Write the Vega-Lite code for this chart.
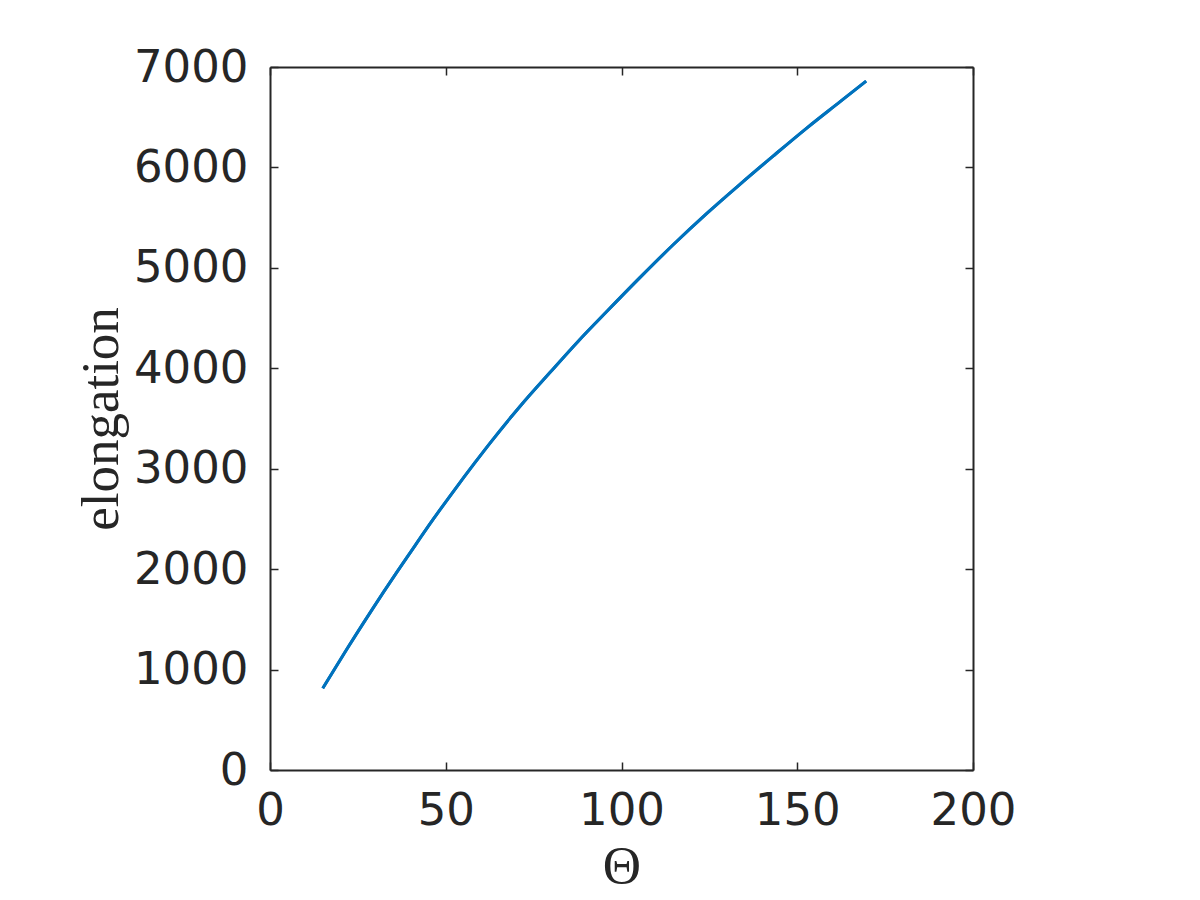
{
  "$schema": "https://vega.github.io/schema/vega-lite/v6.json",
  "width": 703,
  "height": 703,
  "autosize": "none",
  "padding": {"left": 270, "top": 67, "right": 227, "bottom": 130},
  "background": "white",
  "config": {
    "view": {"stroke": null},
    "axis": {
      "domainColor": "#262626",
      "domainWidth": 2,
      "tickColor": "#262626",
      "tickWidth": 1.5,
      "tickSize": -8,
      "labelColor": "#262626",
      "labelFont": "DejaVu Sans",
      "labelFontSize": 45,
      "labelFlush": false,
      "labelOverlap": false,
      "format": "d",
      "grid": false,
      "titleColor": "#262626",
      "titleFont": "Liberation Serif",
      "titleFontSize": 53,
      "titleFontWeight": "normal"
    }
  },
  "data": {
    "values": [
      {"theta": 15.0, "elongation": 814},
      {"theta": 21.8, "elongation": 1200},
      {"theta": 28.9, "elongation": 1590},
      {"theta": 36.0, "elongation": 1965},
      {"theta": 39.8, "elongation": 2160},
      {"theta": 46.5, "elongation": 2500},
      {"theta": 52.2, "elongation": 2775},
      {"theta": 58.3, "elongation": 3060},
      {"theta": 62.6, "elongation": 3255},
      {"theta": 71.1, "elongation": 3620},
      {"theta": 79.7, "elongation": 3960},
      {"theta": 87.7, "elongation": 4270},
      {"theta": 95.8, "elongation": 4565},
      {"theta": 105.3, "elongation": 4905},
      {"theta": 114.7, "elongation": 5230},
      {"theta": 124.2, "elongation": 5540},
      {"theta": 133.7, "elongation": 5832},
      {"theta": 143.2, "elongation": 6115},
      {"theta": 152.7, "elongation": 6392},
      {"theta": 162.2, "elongation": 6655},
      {"theta": 169.6, "elongation": 6860}
    ]
  },
  "layer": [
    {
      "mark": {"type": "line", "color": "#0072BD", "strokeWidth": 3, "interpolate": "monotone"},
      "encoding": {
        "x": {
          "field": "theta", "type": "quantitative",
          "scale": {"domain": [0, 200], "nice": false},
          "axis": {
            "orient": "bottom",
            "values": [0, 50, 100, 150, 200],
            "title": "Θ",
            "labelPadding": 26,
            "titleX": 351.5,
            "titleY": 112,
            "titleBaseline": "alphabetic",
            "titleAlign": "center"
          }
        },
        "y": {
          "field": "elongation", "type": "quantitative",
          "scale": {"domain": [0, 7000], "nice": false},
          "axis": {
            "orient": "left",
            "values": [0, 1000, 2000, 3000, 4000, 5000, 6000, 7000],
            "title": "elongation",
            "labelPadding": 30,
            "titleX": -153,
            "titleY": 351.5,
            "titleAngle": -90,
            "titleBaseline": "alphabetic",
            "titleAlign": "center"
          }
        }
      }
    },
    {
      "mark": {"type": "line", "color": "#0072BD", "strokeWidth": 3, "interpolate": "monotone"},
      "encoding": {
        "x": {
          "field": "theta", "type": "quantitative",
          "scale": {"domain": [0, 200], "nice": false},
          "axis": {"orient": "top", "values": [0, 50, 100, 150, 200], "labels": false, "title": null}
        },
        "y": {
          "field": "elongation", "type": "quantitative",
          "scale": {"domain": [0, 7000], "nice": false},
          "axis": {"orient": "right", "values": [0, 1000, 2000, 3000, 4000, 5000, 6000, 7000], "labels": false, "title": null}
        }
      }
    }
  ],
  "resolve": {"axis": {"x": "independent", "y": "independent"}}
}
